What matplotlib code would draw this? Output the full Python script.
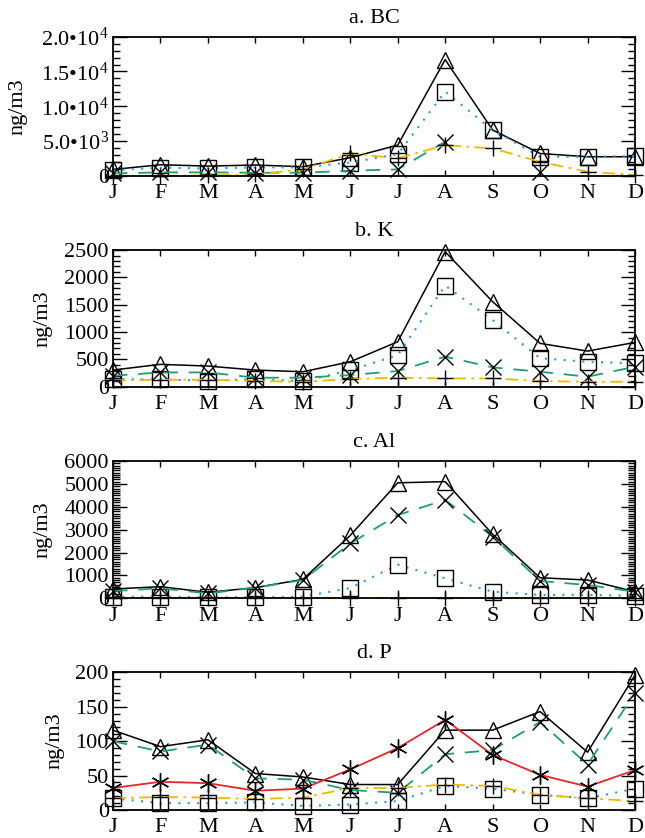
import numpy as np
import matplotlib
matplotlib.use('Agg')
import matplotlib.pyplot as plt
from matplotlib.ticker import MultipleLocator, FuncFormatter

plt.rcParams['font.family'] = ['Liberation Serif', 'DejaVu Serif']
plt.rcParams['mathtext.fontset'] = 'custom'
plt.rcParams['mathtext.rm'] = 'Liberation Serif'
plt.rcParams['mathtext.it'] = 'Liberation Serif'

months = ['J', 'F', 'M', 'A', 'M', 'J', 'J', 'A', 'S', 'O', 'N', 'D']

# a. BC
bc_tri = [900, 1580, 1390, 1540, 1300, 2600, 4400, 16700, 6570, 3200, 2730, 2730]
bc_sq = [800, 1150, 1050, 1200, 1200, 1900, 3100, 12100, 6570, 2730, 2730, 2830]
bc_x = [340, 480, 480, 430, 430, 720, 910, 4890, np.nan, 575, np.nan, np.nan]
bc_plus = [0, 0, 50, 190, 900, 3200, 2500, 4400, 3930, 2000, 575, 100]

# b. K
k_tri = [305, 410, 378, 305, 274, 457, 823, 2470, 1555, 793, 652, 811]
k_sq = [140, 134, 110, 140, 104, 300, 580, 1850, 1220, 520, 457, 427]
k_x = [200, 262, 262, 165, 165, 213, 287, 550, 354, 274, 183, 366]
k_plus = [116, 128, 128, 104, 91, 140, 165, 152, 152, 104, 91, 91]

# c. Al
al_tri = [408, 510, 262, 466, 830, 2750, 5050, 5100, 2800, 900, 800, 290]
al_sq = [73, 73, 50, 44, 73, 450, 1470, 874, 290, 146, 146, 116]
al_x = [320, 437, 218, 466, 800, 2400, 3640, 4300, 2700, 757, 582, 290]
al_plus = [25, 25, 20, 20, 20, 20, 20, 20, 20, 20, 20, 20]

# d. P
p_tri = [116, 92, 102, 53, 48, 37, 37, 116, 116, 143, 84, 196]
p_sq = [17, 10, 10, 11, 6, 8, 13, 35, 31, 22, 17, 31]
p_x = [100, 85, 95, 46, 44, 29, 25, 81, 87, 128, 66, 170]
p_plus = [17, 19, 18, 16, 18, 32, 32, 37, 35, 22, 17, 13]
p_star = [32, 41, 39, 28, 31, 59, 90, 131, 80, 51, 34, 58]

green = '#1f9e74'
blue = '#2b9be0'
yellow = '#f2b800'
red = '#e8262a'

x = np.arange(12)

fig = plt.figure(figsize=(6.45, 8.38), dpi=100)

boxes = [
    [0.1752, 0.7903, 0.8093, 0.1659],
    [0.1752, 0.5385, 0.8093, 0.1631],
    [0.1752, 0.2860, 0.8093, 0.1638],
    [0.1752, 0.0334, 0.8093, 0.1643],
]


def bc_fmt(v, pos):
    labels = {0: '0', 5000: '5.0\u202210$^{3}$', 10000: '1.0\u202210$^{4}$',
              15000: '1.5\u202210$^{4}$', 20000: '2.0\u202210$^{4}$'}
    return labels.get(int(round(v)), '')


def draw(ax, tri, sq, xx, plus, star=None):
    ax.plot(x, tri, color='k', lw=1.1, marker='^', ms=11, mfc='none', mec='k', mew=1.0)
    ax.plot(x, sq, color=blue, lw=1.5, ls=(0, (1, 3.5)), marker='s', ms=11, mfc='none', mec='k', mew=1.0)
    ax.plot(x, xx, color=green, lw=1.3, ls=(0, (8, 6)), marker='x', ms=11, mec='k', mew=1.0)
    ax.plot(x, plus, color=yellow, lw=1.3, ls=(0, (7, 3, 1.5, 3)), marker='+', ms=12, mec='k', mew=1.0)
    if star is not None:
        ax.plot(x, star, color=red, lw=1.3, marker=(6, 2, 0), ms=13, mec='k', mew=1.0)


# title, series, ymax, major, minor, ylabel x position
panels = [
    ('a. BC', bc_tri, bc_sq, bc_x, bc_plus, None, 20000, 5000, 1000, -0.164),
    ('b. K', k_tri, k_sq, k_x, k_plus, None, 2500, 500, 100, -0.115),
    ('c. Al', al_tri, al_sq, al_x, al_plus, None, 6000, 1000, 100, -0.115),
    ('d. P', p_tri, p_sq, p_x, p_plus, p_star, 200, 50, 10, -0.092),
]

for i, (title, tri, sq, xx, plus, star, ymax, major, minor, lab_x) in enumerate(panels):
    ax = fig.add_axes(boxes[i])
    draw(ax, tri, sq, xx, plus, star)
    ax.set_xlim(0, 11)
    ax.set_ylim(0, ymax)
    ax.set_xticks(x)
    ax.set_xticklabels(months)
    ax.yaxis.set_major_locator(MultipleLocator(major))
    ax.yaxis.set_minor_locator(MultipleLocator(minor))
    if i == 0:
        ax.yaxis.set_major_formatter(FuncFormatter(bc_fmt))
    ax.tick_params(axis='both', which='both', direction='in', top=True, right=True, labelsize=16)
    ax.tick_params(axis='y', which='major', length=10, width=1.0, pad=3)
    ax.tick_params(axis='y', which='minor', length=5, width=1.0)
    ax.tick_params(axis='x', which='major', length=4, width=1.0, pad=6)
    for s in ax.spines.values():
        s.set_linewidth(1.3)
    ax.set_title(title, fontsize=16, pad=10)
    ax.set_ylabel('ng/m3', fontsize=16)
    ax.yaxis.set_label_coords(lab_x, 0.5)
    for ln in ax.lines:
        ln.set_clip_on(False)

fig.savefig('out.png', dpi=100)
